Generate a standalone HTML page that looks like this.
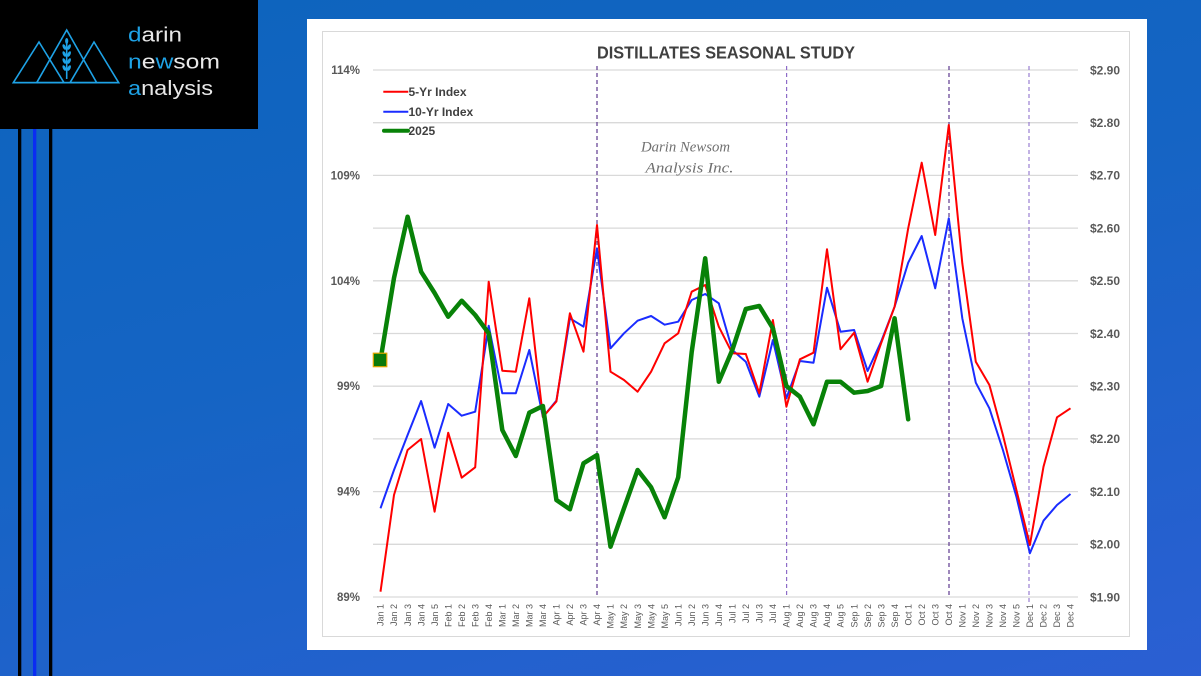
<!DOCTYPE html>
<html><head><meta charset="utf-8">
<style>
html,body{margin:0;padding:0;}
body{width:1201px;height:676px;overflow:hidden;background:linear-gradient(165deg,#0d64bd 0%,#1564c4 45%,#2b5fd3 100%);position:relative;font-family:"Liberation Sans",sans-serif;}
svg{position:absolute;left:0;top:0;}
</style></head>
<body>
<svg width="1201" height="676" viewBox="0 0 1201 676" xmlns="http://www.w3.org/2000/svg">
<!-- left bars -->
<rect x="18" y="129" width="3.3" height="547" fill="#000"/>
<rect x="33" y="129" width="3.3" height="547" fill="#0a2cf2"/>
<rect x="49" y="129" width="3.3" height="547" fill="#000"/>
<!-- logo -->
<rect x="0" y="0" width="258" height="129" fill="#000"/>
<g fill="none" stroke="#1ea2e6" stroke-width="1.6" stroke-linejoin="miter">
<polygon points="13.3,82.7 39,42 64,82.7"/>
<polygon points="36.7,82.7 66.7,30 96.7,82.7"/>
<polygon points="70,82.7 94,42 118.7,82.7"/>
<line x1="13.3" y1="82.7" x2="118.7" y2="82.7"/>
<line x1="66.7" y1="40" x2="66.7" y2="79"/>
</g>
<g fill="#1ea2e6">
<ellipse cx="66.7" cy="41" rx="1.6" ry="3"/>
<ellipse cx="64.3" cy="47" rx="1.5" ry="3" transform="rotate(-25 64.3 47)"/>
<ellipse cx="69.1" cy="47" rx="1.5" ry="3" transform="rotate(25 69.1 47)"/>
<ellipse cx="64.3" cy="54" rx="1.5" ry="3" transform="rotate(-25 64.3 54)"/>
<ellipse cx="69.1" cy="54" rx="1.5" ry="3" transform="rotate(25 69.1 54)"/>
<ellipse cx="64.3" cy="61" rx="1.5" ry="3" transform="rotate(-25 64.3 61)"/>
<ellipse cx="69.1" cy="61" rx="1.5" ry="3" transform="rotate(25 69.1 61)"/>
<ellipse cx="64.3" cy="68" rx="1.5" ry="3" transform="rotate(-25 64.3 68)"/>
<ellipse cx="69.1" cy="68" rx="1.5" ry="3" transform="rotate(25 69.1 68)"/>
</g>
<g font-family="Liberation Sans, sans-serif" font-size="20" fill="#e8e8e8">
<text x="128" y="41.7" textLength="54" lengthAdjust="spacingAndGlyphs"><tspan fill="#1ea2e6">d</tspan>arin</text>
<text x="128" y="68.3" textLength="92" lengthAdjust="spacingAndGlyphs"><tspan fill="#1ea2e6">n</tspan>e<tspan fill="#1ea2e6">w</tspan>som</text>
<text x="128" y="95" textLength="85" lengthAdjust="spacingAndGlyphs"><tspan fill="#1ea2e6">a</tspan>nalysis</text>
</g>

<!-- chart panel -->
<rect x="307" y="19" width="840" height="631" fill="#fff"/>
<rect x="322.5" y="31.5" width="807" height="605" fill="none" stroke="#d9d9d9" stroke-width="1"/>

<!-- gridlines -->
<g stroke="#d9d9d9" stroke-width="1.3">
<line x1="373" y1="70" x2="1078" y2="70"/>
<line x1="373" y1="122.7" x2="1078" y2="122.7"/>
<line x1="373" y1="175.4" x2="1078" y2="175.4"/>
<line x1="373" y1="228.1" x2="1078" y2="228.1"/>
<line x1="373" y1="280.8" x2="1078" y2="280.8"/>
<line x1="373" y1="333.5" x2="1078" y2="333.5"/>
<line x1="373" y1="386.2" x2="1078" y2="386.2"/>
<line x1="373" y1="438.9" x2="1078" y2="438.9"/>
<line x1="373" y1="491.6" x2="1078" y2="491.6"/>
<line x1="373" y1="544.3" x2="1078" y2="544.3"/>
<line x1="373" y1="597" x2="1078" y2="597"/>
</g>

<!-- title -->
<text x="597" y="58.3" font-family="Liberation Sans, sans-serif" font-weight="bold" font-size="17.5" fill="#404040" textLength="258" lengthAdjust="spacingAndGlyphs">DISTILLATES SEASONAL STUDY</text>

<!-- watermark -->
<g font-family="Liberation Serif, serif" font-style="italic" font-size="15" fill="#707070">
<text x="641" y="151.5" textLength="89" lengthAdjust="spacingAndGlyphs">Darin Newsom</text>
<text x="645.5" y="172.5" textLength="88" lengthAdjust="spacingAndGlyphs">Analysis Inc.</text>
</g>

<!-- left axis labels -->
<g font-family="Liberation Sans, sans-serif" font-weight="bold" font-size="11.5" fill="#595959" text-anchor="end">
<text x="360" y="74">114%</text>
<text x="360" y="179.4">109%</text>
<text x="360" y="284.8">104%</text>
<text x="360" y="390.2">99%</text>
<text x="360" y="495.6">94%</text>
<text x="360" y="601">89%</text>
</g>
<!-- right axis labels -->
<g font-family="Liberation Sans, sans-serif" font-weight="bold" font-size="12" fill="#595959">
<text x="1090" y="74.3">$2.90</text>
<text x="1090" y="127">$2.80</text>
<text x="1090" y="179.7">$2.70</text>
<text x="1090" y="232.4">$2.60</text>
<text x="1090" y="285.1">$2.50</text>
<text x="1090" y="337.8">$2.40</text>
<text x="1090" y="390.5">$2.30</text>
<text x="1090" y="443.2">$2.20</text>
<text x="1090" y="495.9">$2.10</text>
<text x="1090" y="548.6">$2.00</text>
<text x="1090" y="601.3">$1.90</text>
</g>

<!-- dashed verticals -->
<g stroke-width="1.2" stroke-dasharray="4,3">
<line x1="597" y1="66" x2="597" y2="598" stroke="#5e3a8f"/>
<line x1="786.6" y1="66" x2="786.6" y2="598" stroke="#8e6cc8"/>
<line x1="949" y1="66" x2="949" y2="598" stroke="#5e3a8f"/>
<line x1="1029" y1="66" x2="1029" y2="603" stroke="#9a7ed2"/>
</g>

<!-- series -->
<polyline fill="none" stroke="#1a2cff" stroke-width="2" stroke-linejoin="round" points="380.5,508.3 394.0,470 407.6,435 421.1,401 434.6,447.7 448.2,404 461.7,415.7 475.2,411.7 488.7,325.7 502.3,393.3 515.8,393.3 529.3,350 542.9,417 556.4,400.7 569.9,318.3 583.5,326.7 597.0,248.3 610.5,348.3 624.0,333.3 637.6,320.7 651.1,316 664.6,324.7 678.2,321.7 691.7,300 705.2,294 718.8,303.3 732.3,350 745.8,361.7 759.3,396.7 772.9,340 786.4,398.3 799.9,361 813.5,362.7 827.0,287.7 840.5,331.7 854.1,330 867.6,371 881.1,341.7 894.6,306.7 908.2,262.7 921.7,236 935.2,288.3 948.8,218.3 962.3,318.3 975.8,382.7 989.4,408.3 1002.9,450 1016.4,496.7 1029.9,553.3 1043.5,520.7 1057.0,505 1070.5,494"/>
<polyline fill="none" stroke="#ff0000" stroke-width="2" stroke-linejoin="round" points="380.5,591.7 394.0,495 407.6,450 421.1,439 434.6,511.7 448.2,432.7 461.7,477.7 475.2,467.3 488.7,281.7 502.3,370.7 515.8,371.7 529.3,298.3 542.9,417 556.4,401.5 569.9,313.3 583.5,351.7 597.0,225 610.5,371.7 624.0,380 637.6,391.7 651.1,371.7 664.6,343.3 678.2,333.3 691.7,291.7 705.2,285 718.8,326.7 732.3,353.3 745.8,354 759.3,393.3 772.9,320 786.4,406.7 799.9,359.3 813.5,352.7 827.0,249.3 840.5,349.3 854.1,332.7 867.6,381.7 881.1,343.3 894.6,306.7 908.2,228.3 921.7,162.7 935.2,235 948.8,125 962.3,263.3 975.8,361.7 989.4,385 1002.9,435 1016.4,490 1029.9,545 1043.5,466.7 1057.0,417.3 1070.5,408.3"/>
<polyline fill="none" stroke="#088208" stroke-width="4.5" stroke-linejoin="round" stroke-linecap="round" points="380.5,360 394.0,278 407.6,216.7 421.1,271.7 434.6,293 448.2,316.7 461.7,300.7 475.2,315 488.7,333.3 502.3,430 515.8,456 529.3,412.7 542.9,406 556.4,500 569.9,509.3 583.5,463.3 597.0,455 610.5,546.7 624.0,508.3 637.6,470 651.1,487.3 664.6,517.3 678.2,477.3 691.7,352 705.2,258.3 718.8,381.7 732.3,350 745.8,309 759.3,306 772.9,328.3 786.4,386 799.9,396.7 813.5,424.3 827.0,381.7 840.5,381.7 854.1,392.7 867.6,391 881.1,386 894.6,318.3 908.2,419.3"/>
<rect x="373.3" y="353.2" width="13.5" height="13.5" fill="#0a7a0a" stroke="#e6a800" stroke-width="1.2"/>

<!-- legend -->
<line x1="383.3" y1="91.7" x2="408.3" y2="91.7" stroke="#ff0000" stroke-width="2"/>
<line x1="383.3" y1="111.7" x2="408.3" y2="111.7" stroke="#1a2cff" stroke-width="2"/>
<line x1="384" y1="130.7" x2="408" y2="130.7" stroke="#088208" stroke-width="4" stroke-linecap="round"/>
<g font-family="Liberation Sans, sans-serif" font-weight="bold" font-size="12" fill="#404040">
<text x="408.5" y="96">5-Yr Index</text>
<text x="408.5" y="116">10-Yr Index</text>
<text x="408.5" y="135">2025</text>
</g>

<!-- x labels -->
<g font-family="Liberation Sans, sans-serif" font-size="9" fill="#595959" text-anchor="end">
<text transform="translate(383.7,604) rotate(-90)">Jan 1</text>
<text transform="translate(397.2,604) rotate(-90)">Jan 2</text>
<text transform="translate(410.8,604) rotate(-90)">Jan 3</text>
<text transform="translate(424.3,604) rotate(-90)">Jan 4</text>
<text transform="translate(437.8,604) rotate(-90)">Jan 5</text>
<text transform="translate(451.4,604) rotate(-90)">Feb 1</text>
<text transform="translate(464.9,604) rotate(-90)">Feb 2</text>
<text transform="translate(478.4,604) rotate(-90)">Feb 3</text>
<text transform="translate(491.9,604) rotate(-90)">Feb 4</text>
<text transform="translate(505.5,604) rotate(-90)">Mar 1</text>
<text transform="translate(519.0,604) rotate(-90)">Mar 2</text>
<text transform="translate(532.5,604) rotate(-90)">Mar 3</text>
<text transform="translate(546.1,604) rotate(-90)">Mar 4</text>
<text transform="translate(559.6,604) rotate(-90)">Apr 1</text>
<text transform="translate(573.1,604) rotate(-90)">Apr 2</text>
<text transform="translate(586.7,604) rotate(-90)">Apr 3</text>
<text transform="translate(600.2,604) rotate(-90)">Apr 4</text>
<text transform="translate(613.7,604) rotate(-90)">May 1</text>
<text transform="translate(627.2,604) rotate(-90)">May 2</text>
<text transform="translate(640.8,604) rotate(-90)">May 3</text>
<text transform="translate(654.3,604) rotate(-90)">May 4</text>
<text transform="translate(667.8,604) rotate(-90)">May 5</text>
<text transform="translate(681.4,604) rotate(-90)">Jun 1</text>
<text transform="translate(694.9,604) rotate(-90)">Jun 2</text>
<text transform="translate(708.4,604) rotate(-90)">Jun 3</text>
<text transform="translate(722.0,604) rotate(-90)">Jun 4</text>
<text transform="translate(735.5,604) rotate(-90)">Jul 1</text>
<text transform="translate(749.0,604) rotate(-90)">Jul 2</text>
<text transform="translate(762.5,604) rotate(-90)">Jul 3</text>
<text transform="translate(776.1,604) rotate(-90)">Jul 4</text>
<text transform="translate(789.6,604) rotate(-90)">Aug 1</text>
<text transform="translate(803.1,604) rotate(-90)">Aug 2</text>
<text transform="translate(816.7,604) rotate(-90)">Aug 3</text>
<text transform="translate(830.2,604) rotate(-90)">Aug 4</text>
<text transform="translate(843.7,604) rotate(-90)">Aug 5</text>
<text transform="translate(857.3,604) rotate(-90)">Sep 1</text>
<text transform="translate(870.8,604) rotate(-90)">Sep 2</text>
<text transform="translate(884.3,604) rotate(-90)">Sep 3</text>
<text transform="translate(897.8,604) rotate(-90)">Sep 4</text>
<text transform="translate(911.4,604) rotate(-90)">Oct 1</text>
<text transform="translate(924.9,604) rotate(-90)">Oct 2</text>
<text transform="translate(938.4,604) rotate(-90)">Oct 3</text>
<text transform="translate(952.0,604) rotate(-90)">Oct 4</text>
<text transform="translate(965.5,604) rotate(-90)">Nov 1</text>
<text transform="translate(979.0,604) rotate(-90)">Nov 2</text>
<text transform="translate(992.6,604) rotate(-90)">Nov 3</text>
<text transform="translate(1006.1,604) rotate(-90)">Nov 4</text>
<text transform="translate(1019.6,604) rotate(-90)">Nov 5</text>
<text transform="translate(1033.1,604) rotate(-90)">Dec 1</text>
<text transform="translate(1046.7,604) rotate(-90)">Dec 2</text>
<text transform="translate(1060.2,604) rotate(-90)">Dec 3</text>
<text transform="translate(1073.7,604) rotate(-90)">Dec 4</text>
</g>
</svg>
</body></html>
